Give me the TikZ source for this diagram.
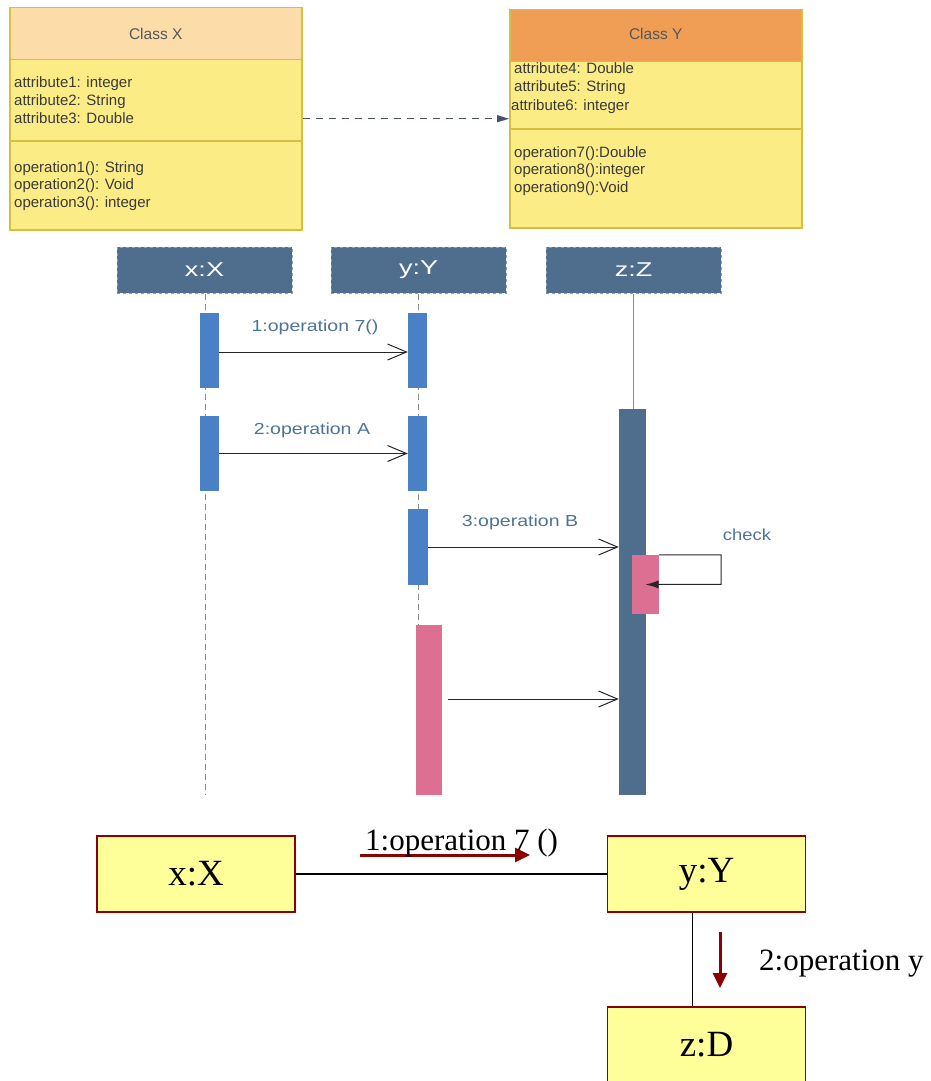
\documentclass[tikz,border=0pt]{standalone}
\usepackage{fontspec}
\usepackage{graphicx}
\setmainfont{Liberation Serif}
\newfontfamily\arialf{Liberation Sans}
\usetikzlibrary{arrows.meta}
\definecolor{hdrX}{HTML}{FCDDAA}
\definecolor{hdrY}{HTML}{F09D55}
\definecolor{cbody}{HTML}{FBEC86}
\definecolor{cline}{HTML}{D4BF3E}
\definecolor{ctxt}{HTML}{3A3A3A}
\definecolor{seqhd}{HTML}{4F6E8E}
\definecolor{seqdash}{HTML}{8AA0B5}
\definecolor{actblue}{HTML}{4A80C5}
\definecolor{zbarc}{HTML}{4F6E8E}
\definecolor{pinkc}{HTML}{DD6F93}
\definecolor{lblc}{HTML}{4D7399}
\definecolor{lifec}{HTML}{8C8C8C}
\definecolor{depc}{HTML}{4A5070}
\definecolor{dred}{HTML}{8B0000}
\definecolor{byel}{HTML}{FFFF99}
\tikzset{
  cbox/.style={draw=cline, line width=1.5pt, minimum width=292pt, inner sep=0pt, anchor=north west},
  ctext/.style={anchor=base west, inner sep=0pt, text=ctxt, font=\arialf\fontsize{15}{18}\selectfont},
  chead/.style={text=ctxt!85, font=\arialf\fontsize{15.5}{18}\selectfont},
  seqhead/.style={draw=seqdash, dashed, line width=1pt, fill=seqhd, minimum width=175pt, minimum height=46pt, inner sep=0pt, text=white, font=\arialf\fontsize{20}{22}\selectfont},
  act/.style={inner sep=0pt, draw=none},
  lifeline/.style={draw=lifec, line width=1pt, dashed, dash pattern=on 6pt off 4pt},
  msg/.style={draw=black!85, line width=1pt, -{Straight Barb[length=19pt,width=16pt,line width=1pt]}},
  selfmsg/.style={draw=black!85, line width=1pt, -{Latex[length=13pt,width=8pt]}},
  slabel/.style={inner sep=0pt, text=lblc, font=\arialf\fontsize{16}{18}\selectfont},
  dep/.style={draw=depc, line width=1pt, dash pattern=on 7pt off 6pt, -{Triangle[length=12pt,width=7pt]}},
  bnode/.style={draw=dred, line width=1.6pt, fill=byel, minimum width=198pt, minimum height=76pt, inner sep=0pt, font=\fontsize{37}{40}\selectfont},
  blabel/.style={anchor=base west, inner sep=0pt, font=\fontsize{31}{34}\selectfont},
  redarrow/.style={draw=dred, line width=3pt, -{Triangle[length=15pt,width=14pt]}},
  conn/.style={draw=black, line width=1.5pt}
}
\begin{document}
\begin{tikzpicture}[x=1pt,y=-1pt]
\useasboundingbox (0,0) rectangle (930,1081);
% ---------------- Class X ----------------
\node[cbox, fill=hdrX, minimum height=52pt] (cxh) at (9,7) {};
\node[chead] (cxt) at (cxh.center) {Class X};
\node[cbox, fill=cbody, minimum height=81pt] (cxa) at (9,59) {};
\node[cbox, fill=cbody, minimum height=89pt] (cxo) at (9,140) {};
\node[ctext] (xa1) at (14,87) {attribute1: integer};
\node[ctext] (xa2) at (14,105) {attribute2: String};
\node[ctext] (xa3) at (14,123) {attribute3: Double};
\node[ctext] (xo1) at (14,172) {operation1(): String};
\node[ctext] (xo2) at (14,189) {operation2(): Void};
\node[ctext] (xo3) at (14,207) {operation3(): integer};
% ---------------- Class Y ----------------
\node[cbox, fill=hdrY, minimum height=52pt] (cyh) at (509,9) {};
\node[chead] (cyt) at ([yshift=2pt]cyh.center) {Class Y};
\node[cbox, fill=cbody, minimum height=67pt] (cya) at (509,61) {};
\node[cbox, fill=cbody, minimum height=99pt] (cyo) at (509,128) {};
\node[ctext] (ya4) at (514,74) {attribute4: Double};
\node[ctext] (ya5) at (514,92) {attribute5: String};
\node[ctext] (ya6) at (511,110) {attribute6: integer};
\node[ctext] (yo7) at (514,157) {operation7():Double};
\node[ctext] (yo8) at (514,174) {operation8():integer};
\node[ctext] (yo9) at (514,192) {operation9():Void};
\draw[dep] ([yshift=-18.5pt]cxa.east) -- ([yshift=-23.5pt]cya.west);
% ---------------- Sequence diagram ----------------
\node[seqhead] (hx) at (204.5,270) {\scalebox{1.35}[1]{x:X}};
\node[seqhead] (hy) at (418.5,270) {\scalebox{1.35}[1]{y:Y}};
\node[seqhead] (hz) at (633.5,270) {\scalebox{1.35}[1]{z:Z}};
\coordinate (xend) at (205,795);
\coordinate (yend) at (418,625);
\draw[lifeline] ([xshift=0.5pt]hx.south) -- (xend);
\draw[lifeline] ([xshift=-0.5pt]hy.south) -- (yend);
% activations
\node[act, fill=actblue, minimum width=19pt, minimum height=75pt] (ax1) at (209.5,350.5) {};
\node[act, fill=actblue, minimum width=19pt, minimum height=75pt] (ax2) at (209.5,453.5) {};
\node[act, fill=actblue, minimum width=19pt, minimum height=75pt] (ay1) at (417.5,350.5) {};
\node[act, fill=actblue, minimum width=19pt, minimum height=75pt] (ay2) at (417.5,453.5) {};
\node[act, fill=actblue, minimum width=20pt, minimum height=76pt] (ay3) at (418,547) {};
\node[act, fill=zbarc, minimum width=27pt, minimum height=386pt] (zbar) at (632.5,602) {};
\draw[draw=lifec, line width=1pt] (hz.south) -- (hz.south |- zbar.north);
\node[act, fill=pinkc, minimum width=27pt, minimum height=59pt] (zp) at (645.5,584.5) {};
\node[act, fill=pinkc, minimum width=26pt, minimum height=170pt] (yp) at (429,710) {};
% messages
\draw[msg] ([yshift=-1.5pt]ax1.east) -- ([yshift=-1.5pt]ay1.west);
\node[slabel] (l1) at (315,327) {\scalebox{1.22}[1]{1:operation 7()}};
\draw[msg] (ax2.east) -- (ay2.west);
\node[slabel] (l2) at (312,430) {\scalebox{1.22}[1]{2:operation A}};
\draw[msg] (ay3.east) -- (ay3.east -| zbar.west);
\node[slabel] (l3) at (520,522) {\scalebox{1.22}[1]{3:operation B}};
\draw[selfmsg] (zp.north east) -- ++(62,0) -- ++(0,29.5) -- (zp.center);
\node[slabel] (l4) at (747,535) {\scalebox{1.15}[1]{check}};
\coordinate (m4s) at ([xshift=6pt,yshift=11pt]yp.east);
\draw[msg] (m4s) -- (m4s -| zbar.west);
% ---------------- Collaboration diagram ----------------
\node[bnode] (bx) at (196,874) {x:X};
\node[bnode] (by) at (706.5,874) {y:Y};
\node[bnode] (bz) at (706.5,1045) {z:D};
\draw[conn] (bx.east) -- (by.west);
\draw[conn] ([xshift=-14pt]by.south) -- ([xshift=-14pt]bz.north);
\coordinate (r1s) at (360,855);
\coordinate (r1e) at (530,855);
\draw[redarrow] (r1s) -- (r1e);
\node[blabel] (bl1) at (365,850) {1:operation 7 ()};
\coordinate (r2s) at (720,932);
\coordinate (r2e) at (720,988);
\draw[redarrow] (r2s) -- (r2e);
\node[blabel] (bl2) at (759,970) {2:operation y};
\end{tikzpicture}
\end{document}
